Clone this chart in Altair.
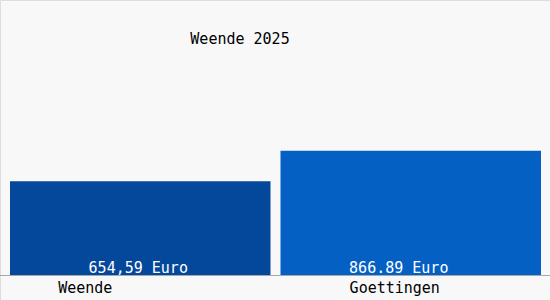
import altair as alt
import pandas as pd

categories = ["Weende", "Goettingen"]
values = [654.59, 866.89]
value_labels = ["654,59 Euro", "866.89 Euro"]
colors = ["#03489a", "#0560c4"]
title_text = "Weende 2025"

df = pd.DataFrame({"cat": categories, "val": values, "lbl": value_labels})

FONT = "DejaVu Sans Mono"
xs = alt.Scale(domain=categories, range=[10, 541], paddingInner=0.037, paddingOuter=0)
ys = alt.Scale(domain=[0, 1000], range=[275, 131.7])

base = alt.Chart(df)

bars = base.mark_bar().encode(
    x=alt.X("cat:N", scale=xs, axis=None, sort=categories),
    y=alt.Y("val:Q", scale=ys, axis=None),
    color=alt.Color("cat:N", scale=alt.Scale(domain=categories, range=colors), legend=None),
)

rule = base.mark_rule(color="#a8a8a8", strokeWidth=1).encode(
    x=alt.value(0), x2=alt.value(550), y=alt.value(275.5)
)

def txt(cat, field_text, dx, y, color):
    return base.transform_filter(alt.datum.cat == cat).mark_text(
        font=FONT, fontSize=15, color=color, dx=dx, align="center", baseline="alphabetic"
    ).encode(
        x=alt.X("cat:N", scale=xs, axis=None, sort=categories),
        y=alt.value(y),
        text=field_text,
    )

vl1 = txt("Weende", "lbl:N", -2, 273, "white")
vl2 = txt("Goettingen", "lbl:N", -12, 273, "white")
cl1 = txt("Weende", "cat:N", -55, 293, "black")
cl2 = txt("Goettingen", "cat:N", -16, 293, "black")

title = base.transform_filter(alt.datum.cat == "Weende").mark_text(
    font=FONT, fontSize=15, color="black", align="center", baseline="alphabetic"
).encode(x=alt.value(240), y=alt.value(44), text=alt.value(title_text))

chart = alt.layer(bars, rule, vl1, vl2, cl1, cl2, title).properties(
    width=550, height=300, padding=0, autosize=alt.AutoSizeParams(type="none")
).configure_view(stroke="#c0c0c0", fill="#f8f8f8", strokeWidth=1).configure(background="#f8f8f8")

chart.save("out.html", embed_options={"renderer": "svg", "actions": False})
